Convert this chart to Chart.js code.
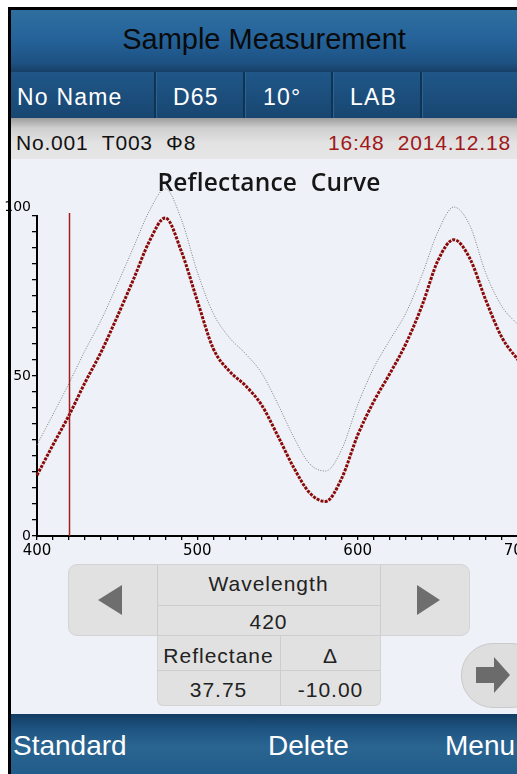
<!DOCTYPE html>
<html><head><meta charset="utf-8">
<script src="https://cdn.jsdelivr.net/npm/chart.js@4.4.1/dist/chart.umd.min.js"></script>
<style>
html,body{margin:0;padding:0;}
body{width:517px;height:774px;overflow:hidden;position:relative;background:#fff;font-family:"Liberation Sans",Arial,sans-serif;}
.a{position:absolute;}
.t{position:absolute;white-space:nowrap;line-height:1;}
#bg{left:11px;top:10px;width:506px;height:764px;background:#eef2f8;}
#bl{left:8px;top:7px;width:3px;height:767px;background:#000;}
#bt{left:8px;top:7px;width:509px;height:3px;background:#000;}
#hdr{left:11px;top:10px;width:506px;height:62px;background:linear-gradient(#2f6f9f,#25639a 45%,#1d5283 85%,#173f66);}
#tabs{left:11px;top:72px;width:506px;height:46px;background:linear-gradient(#1f5788,#1b4d7b 60%,#184670);}
.sep{position:absolute;top:72px;height:46px;width:2px;background:#0e3454;border-right:1px solid #2c6394;}
#info{left:11px;top:118px;width:506px;height:41px;background:linear-gradient(#9c9c9c,#cfcfcf 25%,#e2e2e2 60%,#e6e6e6);}
#ftr{left:11px;top:714px;width:506px;height:60px;background:linear-gradient(#123c63,#1e5482 25%,#2a6592 55%,#225c8a);}
.tab{color:#fff;font-size:23px;letter-spacing:1.2px;}
.cell{color:#222;font-size:21px;letter-spacing:1px;text-align:center;}
.ft{color:#fff;font-size:28px;}
#cw{position:absolute;left:0;top:160px;width:540px;height:400px;}
</style></head>
<body>
<div class="a" id="bg"></div>
<div class="a" id="bl"></div>
<div class="a" id="bt"></div>
<div class="a" id="hdr"></div>
<div class="t" style="left:11px;width:506px;text-align:center;top:25px;font-size:29px;color:#0a0a0a;">Sample Measurement</div>
<div class="a" id="tabs"></div>
<div class="sep" style="left:154px"></div>
<div class="sep" style="left:243px"></div>
<div class="sep" style="left:331px"></div>
<div class="sep" style="left:420px"></div>
<div class="t tab" style="left:17px;top:85.5px;">No Name</div>
<div class="t tab" style="left:173px;top:85.5px;">D65</div>
<div class="t tab" style="left:263px;top:85.5px;">10°</div>
<div class="t tab" style="left:350px;top:85.5px;">LAB</div>
<div class="a" id="info"></div>
<div class="t" style="left:16px;top:131.5px;font-size:21px;letter-spacing:0.8px;color:#111;">No.001&nbsp;&nbsp;T003&nbsp;&nbsp;Φ8</div>
<div class="t" style="left:328px;top:131.5px;font-size:21px;letter-spacing:0.8px;color:#a01818;">16:48&nbsp;&nbsp;2014.12.18</div>

<div id="cw"><canvas id="c"></canvas></div>
<div class="t" style="left:119px;width:300px;text-align:center;top:170px;font-family:'Open Sans';font-weight:600;font-size:24.5px;color:#161616;word-spacing:7px;letter-spacing:0.2px;">Reflectance Curve</div>

<!-- bottom panel -->
<div class="a" style="left:68px;top:564px;width:400px;height:70px;background:#e1e1e1;border:1px solid #d3d3d3;border-radius:9px;"></div>
<div class="a" style="left:157px;top:565px;width:1px;height:70px;background:#cdcdcd;"></div>
<div class="a" style="left:380px;top:565px;width:1px;height:70px;background:#cdcdcd;"></div>
<div class="a" style="left:157px;top:605px;width:223px;height:1px;background:#cdcdcd;"></div>
<div class="a" style="left:157px;top:635px;width:222px;height:70px;background:#e1e1e1;border:1px solid #d3d3d3;border-top:none;border-radius:0 0 6px 6px;"></div>
<div class="a" style="left:157px;top:635px;width:223px;height:1px;background:#cdcdcd;"></div>
<div class="a" style="left:280px;top:636px;width:1px;height:70px;background:#cdcdcd;"></div>
<div class="a" style="left:157px;top:670px;width:223px;height:1px;background:#cdcdcd;"></div>
<svg class="a" style="left:90px;top:580px" width="40" height="40"><polygon points="8,20 32,5 32,35" fill="#6e6e6e"/></svg>
<svg class="a" style="left:410px;top:580px" width="40" height="40"><polygon points="30,20 7,5 7,35" fill="#6e6e6e"/></svg>
<div class="t cell" style="left:157px;width:223px;top:573px;">Wavelength</div>
<div class="t cell" style="left:157px;width:223px;top:611px;">420</div>
<div class="t cell" style="left:157px;width:123px;top:645px;">Reflectane</div>
<div class="t cell" style="left:281px;width:99px;top:645px;">Δ</div>
<div class="t cell" style="left:157px;width:123px;top:679px;">37.75</div>
<div class="t cell" style="left:281px;width:99px;top:679px;">-10.00</div>
<div class="a" style="left:461px;top:643px;width:80px;height:63px;background:#dedede;border:1px solid #c9c9c9;border-radius:32px;"></div>
<svg class="a" style="left:470px;top:650px" width="46" height="50"><polygon points="6,17 24,17 24,7 40,25 24,43 24,33 6,33" fill="#6b6b6b"/></svg>

<div class="a" id="ftr"></div>
<div class="t ft" style="left:13px;top:732px;">Standard</div>
<div class="t ft" style="left:268px;top:732px;">Delete</div>
<div class="t ft" style="left:445px;top:732px;">Menu</div>

<script>
const wavelengths = [400,410,420,430,440,450,460,470,480,490,500,510,520,530,540,550,560,570,580,590,600,610,620,630,640,650,660,670,680,690,700];
const sampleValues = [19,28.5,37.75,48,57.5,68.5,80,92,99.4,89,73.5,58.5,51.5,47,41,31.5,21.5,13.5,10.8,18,31.5,42,50.7,60,71.8,86,92.6,86.7,73.6,62,55];
const standardValues = [28.5,38,47.75,58,67.5,78.5,90,101.5,108.5,99,82.5,69.5,62,57,51,41.5,31,22.6,20.3,27,41,52.5,61.2,69.6,81.4,95,102.8,97,82,71.7,66];
const cursorWavelength = 420;
const xTickLabels = [400,500,600,700];
const yTickLabels = [0,50,100];

const toPts = vals => wavelengths.map((w,i)=>({x:w,y:vals[i]}));

const cursorPlugin = {
  id:'cursor',
  afterDatasetsDraw(chart){
    const {ctx, chartArea, scales} = chart;
    const x = Math.round(scales.x.getPixelForValue(cursorWavelength)) + 0.5;
    ctx.save();
    ctx.strokeStyle = '#a51c1c';
    ctx.lineWidth = 1.5;
    ctx.beginPath();
    ctx.moveTo(x, chartArea.top - 3);
    ctx.lineTo(x, chartArea.bottom);
    ctx.stroke();
    ctx.restore();
  }
};

new Chart(document.getElementById('c'), {
  type:'line',
  data:{
    datasets:[
      {label:'Sample', data:toPts(sampleValues), borderColor:'#8a0a0a', borderWidth:3, borderDash:[3,1.2], pointRadius:0, cubicInterpolationMode:'monotone', clip:false, order:0},
      {label:'Standard', data:toPts(standardValues), borderColor:'#7a7a7a', borderWidth:1, borderDash:[1,1.5], pointRadius:0, cubicInterpolationMode:'monotone', clip:false, order:1}
    ]
  },
  options:{
    responsive:true, maintainAspectRatio:false, animation:false,
    layout:{padding:{left:0,right:22,top:56,bottom:0}},
    plugins:{legend:{display:false}, tooltip:{enabled:false}, title:{display:false}},
    scales:{
      x:{type:'linear', min:400, max:700,
        afterFit:s=>{s.height=24;},
        border:{display:true,color:'#000',width:2},
        grid:{display:true,drawOnChartArea:false,drawTicks:true,tickLength:4,color:'#000',lineWidth:1.3},
        ticks:{stepSize:10,autoSkip:false,maxRotation:0,padding:2,color:'#000',font:{family:'DejaVu Sans',size:15},
          callback:v=>xTickLabels.includes(v)?String(v):''}
      },
      y:{type:'linear', min:0, max:100,
        afterFit:s=>{s.width=37;},
        border:{display:true,color:'#000',width:2},
        grid:{display:true,drawOnChartArea:false,drawTicks:true,tickLength:5,color:'#000',lineWidth:1.3},
        ticks:{stepSize:5,autoSkip:false,padding:1,color:'#000',font:{family:'DejaVu Sans',size:14,lineHeight:1.3},
          callback:v=>yTickLabels.includes(v)?(v===100?['100','']:String(v)):''}
      }
    }
  },
  plugins:[cursorPlugin]
});
</script>
</body></html>
